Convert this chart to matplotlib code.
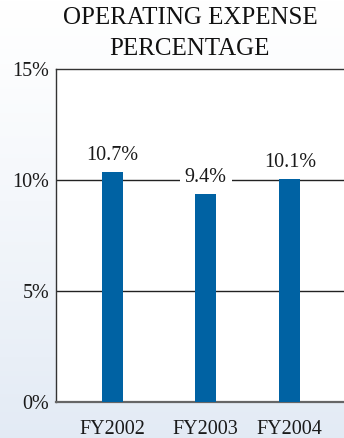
import numpy as np
import matplotlib
matplotlib.use('Agg')
import matplotlib.pyplot as plt

plt.rcParams['font.family'] = ['Liberation Serif', 'DejaVu Serif']

# data
years = ['FY2002', 'FY2003', 'FY2004']
bar_heights = [10.35, 9.37, 10.05]
bar_labels = ['10.7%', '9.4%', '10.1%']
x_pos = [0, 1, 1.9]
y_ticks = [0, 5, 10, 15]

bar_color = '#0062a3'
txt = '#1a1a1a'

fig = plt.figure(figsize=(3.44, 4.38), dpi=100)

# background gradient: white on top, pale blue at the bottom
bg = fig.add_axes([0, 0, 1, 1], zorder=-10)
grad = np.linspace(0, 1, 256).reshape(-1, 1)
top = np.array([1.0, 1.0, 1.0])
bottom = np.array([0.89, 0.92, 0.96])
img = top + (bottom - top) * grad[..., None] ** 1.2
bg.imshow(img, aspect='auto', extent=[0, 1, 0, 1], origin='upper')
bg.axis('off')

ax = fig.add_axes([0.163, 0.082, 0.84, 0.760])
ax.set_facecolor('white')
ax.bar(x_pos, bar_heights, width=0.225, color=bar_color, zorder=3)

for xp, h, lab in zip(x_pos, bar_heights, bar_labels):
    ax.annotate(lab, (xp, h), xytext=(0, 5), textcoords='offset points',
                ha='center', va='bottom', fontsize=14.5, color=txt,
                bbox=dict(fc='white', ec='none', pad=3.5), zorder=2)

ax.set_ylim(0, 15)
ax.set_xlim(-0.6, 2.49)
ax.set_yticks(y_ticks)
ax.set_yticklabels([f'{t}%' for t in y_ticks], fontsize=14.5, color=txt)
ax.set_xticks(x_pos)
ax.set_xticklabels(years, fontsize=14.5, color=txt)
ax.tick_params(length=0)
ax.tick_params(axis='y', pad=5)
ax.tick_params(axis='x', pad=13)

for t in [5, 10]:
    ax.axhline(t, color='#222222', lw=1.0, zorder=1)

for s in ['left', 'top']:
    ax.spines[s].set_color('#333333')
    ax.spines[s].set_linewidth(1.0)
ax.spines['bottom'].set_color('#666666')
ax.spines['bottom'].set_linewidth(1.6)
ax.spines['right'].set_visible(False)

fig.text(0.552, 0.985, 'OPERATING EXPENSE\nPERCENTAGE', ha='center', va='top',
         fontsize=18, color='#111111', linespacing=1.55)

fig.savefig('out.png', dpi=100)
